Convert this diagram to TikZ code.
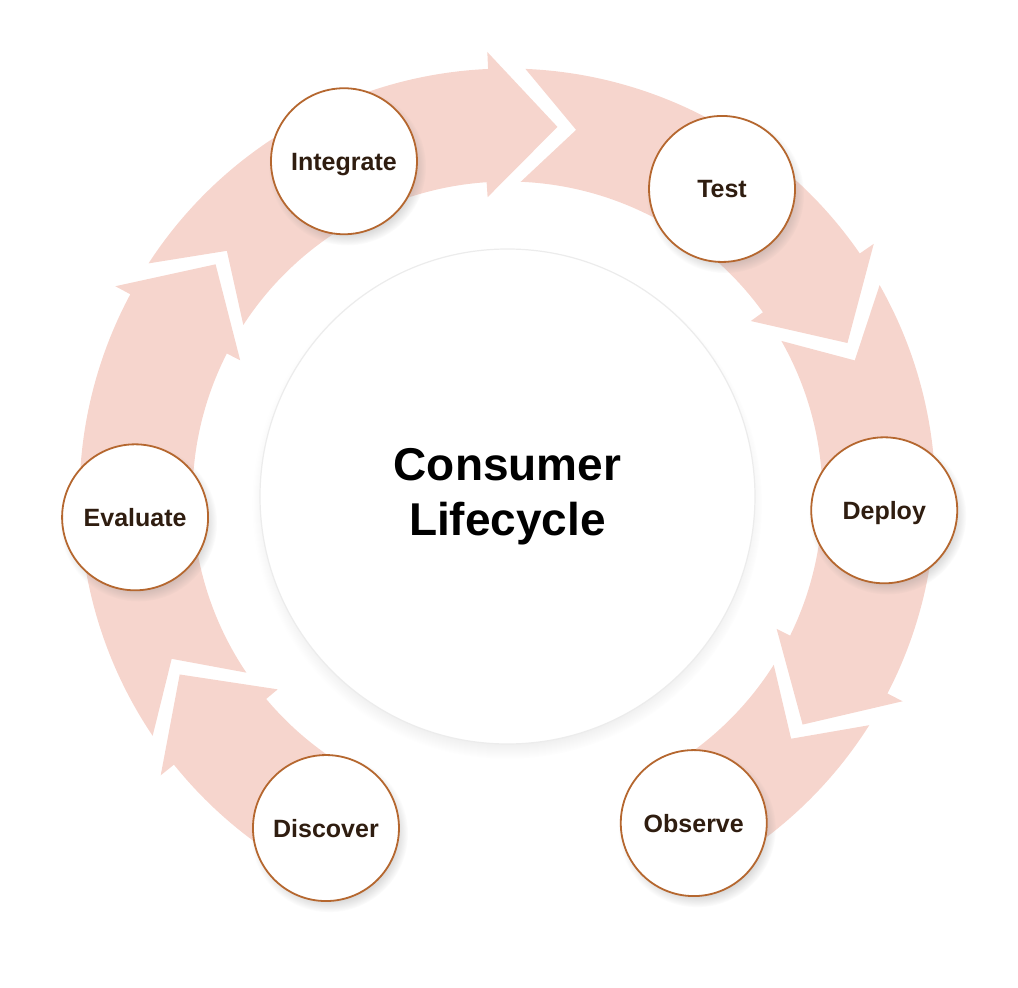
\documentclass[tikz,border=0pt]{standalone}
\usepackage{fontspec}
\setmainfont{Liberation Sans}
\usetikzlibrary{shadows,fadings}

\definecolor{ringfill}{HTML}{F6D5CD}
\definecolor{stageline}{HTML}{B5672F}
\definecolor{stagetext}{HTML}{2F1D10}
\definecolor{coreline}{HTML}{ECECEC}

\tikzset{
    ring/.style={fill=ringfill},
    stage/.style={circle, draw=stageline, line width=1.8pt, fill=white,
        minimum size=146pt, inner sep=0pt, text=stagetext,
        text height=18pt, text depth=0pt,
        font=\fontsize{25}{30}\selectfont\bfseries,
        circular drop shadow={shadow xshift=3pt, shadow yshift=-5pt,
            shadow scale=1.08, opacity=0.3}},
    core/.style={circle, draw=coreline, line width=1.2pt, fill=white,
        minimum size=495pt, inner sep=0pt, align=center,
        font=\fontsize{46}{55}\selectfont\bfseries,
        circular drop shadow={shadow xshift=0pt, shadow yshift=-7pt,
            shadow scale=1.03, opacity=0.3}}
}

\begin{document}
\begin{tikzpicture}[x=1pt, y=1pt]
    \useasboundingbox (-507.5, -491.5) rectangle (510.5, 496.5);

    % Ring radii
    \def\rin{315pt}
    \def\rout{428pt}
    \def\rmid{373pt}

    % Ring arrows (tail angle / tip angle)
    \foreach \a/\t in {214/141.5, 147/82.3, 87.6/24.3, 29.6/-37.7} {
        \fill[ring] (\a:\rout) arc[start angle=\a, end angle=\t+10.3, radius=\rout]
            -- (\t+10.3:445pt) -- (\t:\rmid) -- (\t+11.5:300pt)
            -- (\t+11.5:\rin) arc[start angle=\t+11.5, end angle=\a, radius=\rin]
            -- (\a-8.2:\rmid) -- cycle;
    }
    % first arrow starts under Discover
    \fill[ring] (241:\rout) arc[start angle=241, end angle=218.8, radius=\rout]
        -- (218.8:445pt) -- (208.5:\rmid) -- (220:300pt)
        -- (220:\rin) arc[start angle=220, end angle=241, radius=\rin] -- cycle;
    % last piece ends under Observe
    \fill[ring] (-32.3:\rout) arc[start angle=-32.3, end angle=-60, radius=\rout]
        -- (-60:\rin) arc[start angle=-60, end angle=-32.3, radius=\rin]
        -- (-40.5:\rmid) -- cycle;

    % Centre
    \node[core] (core) at (0, 0) {Consumer\\Lifecycle};

    % Stages
    \foreach \ang/\rad/\name/\lbl in {116/373/integrate/Integrate, 55.1/375/test/Test,
        -2.1/377/deploy/Deploy, -60.3/376/observe/Observe,
        241.3/378/discover/Discover, 183.2/373/evaluate/Evaluate} {
        \node[stage] (\name) at (\ang:\rad pt) {\lbl};
    }
\end{tikzpicture}
\end{document}
